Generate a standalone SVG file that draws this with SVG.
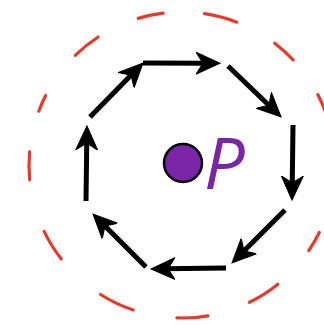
<svg xmlns="http://www.w3.org/2000/svg" width="324" height="325" viewBox="0 0 324 325">
  <style>
    .dash { fill: none; stroke: #e63a2c; stroke-width: 3.2; stroke-linecap: round; }
    .arr { fill: none; stroke: #000; stroke-width: 5; marker-end: url(#head); }
    .lbl { font-family: "Open Sans", "Noto Sans", "Liberation Sans", sans-serif; font-style: italic; fill: #7a25a6; }
  </style>
  <defs>
    <marker id="head" viewBox="0 -12 26 24" refX="11" refY="0" markerWidth="26" markerHeight="24" markerUnits="userSpaceOnUse" orient="auto">
      <path d="M0,-11 L24,0 L0,11 L7,0 Z" fill="#000" stroke="#000" stroke-width="1" stroke-linejoin="miter"/>
    </marker>
  </defs>
  <rect width="324" height="325" fill="#fff"/>
  <g id="circle">
    <path class="dash" d="M75.3,55.3 A153,153 0 0 1 98.2,37"/>
    <path class="dash" d="M138.3,18.4 A153,153 0 0 1 163.1,13.2"/>
    <path class="dash" d="M204.6,13.7 A153,153 0 0 1 236.8,22.2"/>
    <path class="dash" d="M274.7,43.3 A153,153 0 0 1 293.2,59.9"/>
    <path class="dash" d="M317.8,94.6 A153,153 0 0 1 328.3,120.3"/>
    <path class="dash" d="M319.3,232.5 A153,153 0 0 1 308.8,250.6"/>
    <path class="dash" d="M277.9,284.2 A153,153 0 0 1 249.5,302.3"/>
    <path class="dash" d="M208,315.8 A153,153 0 0 1 176.9,317.9"/>
    <path class="dash" d="M133.2,310 A153,153 0 0 1 100.5,294.5"/>
    <path class="dash" d="M61.3,259 A153,153 0 0 1 44.1,231.4"/>
    <path class="dash" d="M29.7,179.9 A153,153 0 0 1 29.6,151.9"/>
    <path class="dash" d="M38.8,111.2 A153,153 0 0 1 45.7,95.5"/>
  </g>
  <g id="connectors">
    <path class="arr" d="M143,63 L207,63.3"/>
    <path class="arr" d="M228,66 L271.7,108"/>
    <path class="arr" d="M293,125 L292.2,187"/>
    <path class="arr" d="M285,210 L241.2,253.8"/>
    <path class="arr" d="M226,268 L164,268.8"/>
    <path class="arr" d="M146,267 L102.2,223.2"/>
    <path class="arr" d="M86,201 L86.8,139"/>
    <path class="arr" d="M90,117 L133.9,72.3"/>
  </g>
  <g id="P">
    <circle cx="183" cy="163" r="19" fill="#7a25a6" stroke="#000" stroke-width="2.5"/>
    <text class="lbl" x="204" y="189" font-size="72">P</text>
  </g>
</svg>
